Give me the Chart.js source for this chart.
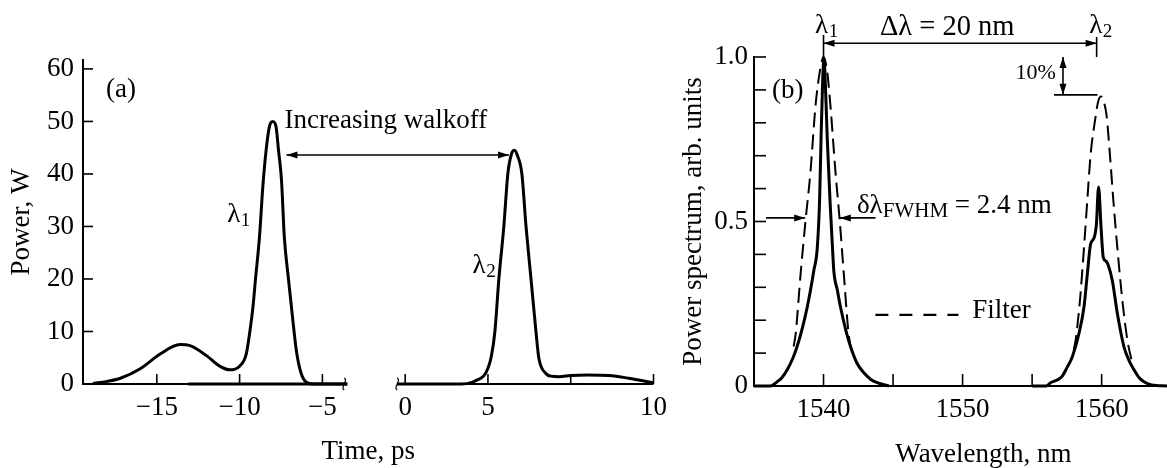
<!DOCTYPE html>
<html><head><meta charset="utf-8">
<script src="https://cdn.jsdelivr.net/npm/chart.js@4.4.1/dist/chart.umd.min.js"></script>
<style>
html,body{margin:0;padding:0;background:#fff;}
#wrap{position:relative;width:1167px;height:468px;overflow:hidden;background:#fff;}
canvas{position:absolute;top:0;}
#ca{left:0;}
#cb{left:675px;}
</style></head><body>
<div id="wrap"><canvas id="ca" width="675" height="468"></canvas><canvas id="cb" width="492" height="468"></canvas></div>
<script>
// ---------- Panel (a): power vs time ----------
const timeTicksA = [-15, -10, -5, 0, 5, 10, 15];
const timeTickLabelsA = ['−15', '−10', '−5', '0', '5', '', '10'];
const powerTicksA = [0, 10, 20, 30, 40, 50, 60];
const powerTickLabelsA = ['0', '10', '20', '30', '40', '50', '60'];

const timeL1 = [-18.86,-18.0,-17.2,-16.0,-14.8,-13.6,-13.0,-12.0,-11.2,-10.6,-10.0,-9.6,-9.4,-9.2,-9.04,-8.8,-8.6,-8.4,-8.2,-8.0,-7.8,-7.65,-7.47,-7.3,-7.05,-6.8,-6.57,-6.27,-5.9,-5.5,-3.5];
const powerL1 = [0.1,0.5,1.1,2.9,5.7,7.5,7.3,5.4,3.4,2.7,3.4,5.7,9.6,14.5,20,28,37.5,44.5,49,50,49,44.5,38.8,28,20,12.6,6.3,1.9,0.2,0,0];

const timeL2 = [-13.1,-3.5,-2.0,-0.5,3.4,4.04,4.3,4.76,5.0,5.2,5.42,5.66,5.96,6.2,6.42,6.6,6.78,7.05,7.3,7.6,7.9,8.07,8.5,8.8,9.3,10.0,11.0,12.3,13.5,15.0];
const powerL2 = [0,0,null,0,0,0.3,0.7,1.6,3.0,5.2,10,20,30,40,43.8,44.5,43.5,40,30,20,10,5,2,1.5,1.4,1.6,1.7,1.6,1.1,0.25];

const axisSegmentsA = [[-19.46, -3.5], [-0.48, 15]];

// ---------- Panel (b): power spectrum vs wavelength ----------
const wlTicksB = [1540, 1545, 1550, 1555, 1560];
const wlTickLabelsB = ['1540', '', '1550', '', '1560'];
const specTicksB = [0, 0.1, 0.2, 0.3, 0.4, 0.5, 0.6, 0.7, 0.8, 0.9, 1.0];
const specTickLabelsB = ['0', '', '', '', '', '0.5', '', '', '', '', '1.0'];

const wlS1 = [1535,1536.2,1536.67,1537.0,1537.4,1537.8,1538.1,1538.5,1538.83,1539.1,1539.3,1539.55,1539.72,1539.82,1539.94,1540.03,1540.13,1540.27,1540.47,1540.62,1540.74,1541.0,1541.22,1541.6,1541.94,1542.4,1542.9,1543.4,1543.86,1544.7];
const specS1 = [0,0,0.013,0.025,0.05,0.085,0.12,0.18,0.24,0.30,0.35,0.42,0.57,0.75,0.93,0.995,0.92,0.75,0.56,0.44,0.35,0.29,0.24,0.17,0.12,0.07,0.04,0.02,0.01,0];

const wlS2 = [1555,1556.0,1556.33,1556.8,1557.17,1557.5,1557.9,1558.37,1558.73,1558.97,1559.2,1559.45,1559.62,1559.78,1559.96,1560.12,1560.3,1560.45,1560.77,1561.13,1561.6,1562.0,1562.32,1562.7,1563.04,1563.6,1564.7];
const specS2 = [0,0,0.01,0.018,0.03,0.055,0.09,0.16,0.24,0.34,0.43,0.45,0.49,0.605,0.48,0.39,0.38,0.37,0.32,0.22,0.12,0.075,0.05,0.025,0.013,0.003,0];

const wlF1 = [1537.85,1538.0,1538.35,1538.7,1539.06,1539.42,1539.75,1540.0,1540.25,1540.5,1540.86,1541.17,1541.46,1541.8,1542.1];
const filtF1 = [0.12,0.16,0.34,0.50,0.65,0.85,0.96,1.0,0.96,0.85,0.65,0.50,0.34,0.16,0.09];

const wlF2 = [1558.0,1558.13,1558.44,1558.73,1558.97,1559.2,1559.57,1559.75,1559.95,1560.15,1560.36,1560.6,1560.84,1561.13,1561.49,1561.85,1562.2];
const filtF2 = [0.11,0.14,0.26,0.42,0.565,0.70,0.82,0.865,0.88,0.865,0.82,0.70,0.565,0.42,0.26,0.14,0.07];

// ---------- helpers ----------
const SERIF = "'Liberation Serif', 'DejaVu Serif', serif";
const FS = 27;
const FONT = {family: SERIF, size: FS};
const pts = (xs, ys) => xs.map((x, i) => ({x, y: ys[i]}));
Chart.defaults.font.family = SERIF;
Chart.defaults.color = '#000';

function txt(ctx, s, x, y, size, align) {
  ctx.font = size + 'px ' + SERIF;
  ctx.textAlign = align || 'left';
  ctx.textBaseline = 'alphabetic';
  ctx.fillStyle = '#000';
  ctx.fillText(s, x, y);
  return ctx.measureText(s).width;
}
function lam(ctx, sub, x, y, size, subSize) {
  const w = txt(ctx, 'λ', x, y, size);
  txt(ctx, sub, x + w + 0.5, y + 4, subSize);
}
function seg(ctx, x1, y1, x2, y2, lw) {
  ctx.lineWidth = lw; ctx.strokeStyle = '#000';
  ctx.beginPath(); ctx.moveTo(x1, y1); ctx.lineTo(x2, y2); ctx.stroke();
}
function head(ctx, x1, y1, x2, y2, len, hw) {
  const a = Math.atan2(y2 - y1, x2 - x1), c = Math.cos(a), s = Math.sin(a);
  ctx.fillStyle = '#000';
  ctx.beginPath();
  ctx.moveTo(x2, y2);
  ctx.lineTo(x2 - len * c + hw * s, y2 - len * s - hw * c);
  ctx.lineTo(x2 - len * c - hw * s, y2 - len * s + hw * c);
  ctx.closePath(); ctx.fill();
}
function arrow(ctx, x1, y1, x2, y2, both) {
  seg(ctx, x1, y1, x2, y2, 1.6);
  head(ctx, x1, y1, x2, y2, 11, 3.5);
  if (both) head(ctx, x2, y2, x1, y1, 11, 3.5);
}
function squiggle(ctx, x, y) {
  ctx.lineWidth = 1.2; ctx.strokeStyle = '#000';
  ctx.beginPath();
  ctx.moveTo(x, y - 6);
  ctx.bezierCurveTo(x + 5, y - 3, x - 5, y + 3, x, y + 6);
  ctx.stroke();
}

// ---------- panel (a) decorations ----------
const decorA = {
  id: 'decorA',
  beforeDatasetsDraw(chart) {
    const {ctx, scales: {x, y}} = chart;
    ctx.save();
    const y0 = y.getPixelForValue(0);
    axisSegmentsA.forEach(([a, b]) => seg(ctx, x.getPixelForValue(a), y0, x.getPixelForValue(b), y0, 2));
    timeTicksA.forEach(v => { const px = x.getPixelForValue(v); seg(ctx, px, y0, px, y0 - 10, 1.6); });
    powerTicksA.forEach(v => { const py = y.getPixelForValue(v); seg(ctx, x.left, py, x.left + 10, py, 1.6); });
    squiggle(ctx, x.getPixelForValue(axisSegmentsA[0][1]) - 3, y0);
    squiggle(ctx, x.getPixelForValue(axisSegmentsA[1][0]), y0);
    ctx.restore();
  },
  afterDraw(chart) {
    const {ctx, scales: {x, y}} = chart;
    const X = v => x.getPixelForValue(v), Y = v => y.getPixelForValue(v);
    ctx.save();
    txt(ctx, '(a)', X(-18.07), Y(54.56), FS);
    txt(ctx, 'Increasing walkoff', X(-7.29), Y(48.75), FS);
    arrow(ctx, X(-7.17), Y(43.6), X(6.27), Y(43.6), true);
    lam(ctx, '1', X(-10.75), Y(30.85), FS, 19);
    lam(ctx, '2', X(4.07), Y(21.14), FS, 19);
    ctx.restore();
  }
};

// ---------- panel (b) decorations ----------
const decorB = {
  id: 'decorB',
  beforeDatasetsDraw(chart) {
    const {ctx, scales: {x, y}} = chart;
    ctx.save();
    const y0 = y.getPixelForValue(0);
    wlTicksB.forEach(v => { const px = x.getPixelForValue(v); seg(ctx, px, y0, px, y0 - 12, 1.6); });
    specTicksB.forEach(v => { const py = y.getPixelForValue(v); seg(ctx, x.left, py, x.left + 12, py, 1.6); });
    ctx.restore();
  },
  afterDraw(chart) {
    const {ctx, scales: {x, y}} = chart;
    const X = v => x.getPixelForValue(v), Y = v => y.getPixelForValue(v);
    ctx.save();
    // lambda markers and separation arrow
    lam(ctx, '1', X(1539.39), Y(1.073), FS, 19);
    lam(ctx, '2', X(1559.1), Y(1.073), FS, 19);
    seg(ctx, X(1540), Y(1.067), X(1540), Y(0.99), 1.6);
    seg(ctx, X(1559.64), Y(1.061), X(1559.64), Y(1.0), 1.6);
    arrow(ctx, X(1540), Y(1.0416), X(1559.64), Y(1.0416), true);
    txt(ctx, 'Δλ = 20 nm', X(1544.06), Y(1.067), 28.5);
    // 10% marker
    txt(ctx, '10%', X(1553.8), Y(0.934), 22);
    arrow(ctx, X(1557.22), Y(1.0), X(1557.22), Y(0.885), true);
    seg(ctx, X(1556.57), Y(0.885), X(1559.7), Y(0.885), 1.6);
    // (b)
    txt(ctx, '(b)', X(1536.3), Y(0.875), FS);
    // FWHM
    arrow(ctx, X(1535.87), Y(0.511), X(1538.68), Y(0.511), false);
    arrow(ctx, X(1543.74), Y(0.511), X(1541.17), Y(0.511), false);
    let px = X(1542.4);
    const by = Y(0.526);
    px += txt(ctx, 'δλ', px, by, FS);
    px += txt(ctx, 'FWHM', px, by + 4, 21);
    txt(ctx, ' = 2.4 nm', px, by, FS);
    // filter legend
    ctx.setLineDash([13, 11]);
    seg(ctx, X(1543.73), Y(0.216), X(1549.7), Y(0.216), 2.2);
    ctx.setLineDash([]);
    txt(ctx, 'Filter', X(1550.7), Y(0.207), FS);
    // x axis title
    txt(ctx, 'Wavelength, nm', X(1551.5), 462, FS, 'center');
    ctx.restore();
  }
};

const lineDs = (data, w, dash) => ({
  data, borderColor: '#000', borderWidth: w, borderDash: dash || [], pointRadius: 0,
  fill: false, cubicInterpolationMode: 'monotone', spanGaps: false, clip: false
});

new Chart(document.getElementById('ca'), {
  type: 'line',
  data: { datasets: [ lineDs(pts(timeL1, powerL1), 3), lineDs(pts(timeL2, powerL2), 3) ] },
  options: {
    responsive: false, animation: false, devicePixelRatio: 1,
    layout: { padding: { top: 60, left: 0, right: 20, bottom: 0 } },
    plugins: { legend: { display: false }, tooltip: { enabled: false } },
    scales: {
      x: {
        type: 'linear', min: -19.46, max: 15,
        grid: { display: false, drawTicks: false }, border: { display: false },
        afterBuildTicks: s => { s.ticks = timeTicksA.map(v => ({value: v})); },
        afterFit: s => { s.height = 84; },
        ticks: { font: FONT, color: '#000', padding: 8, autoSkip: false, maxRotation: 0,
                 callback: (v, i) => timeTickLabelsA[i] },
        title: { display: true, text: 'Time, ps', font: FONT, color: '#000', padding: { top: 1, bottom: 0 } }
      },
      y: {
        type: 'linear', min: 0, max: 61.7,
        grid: { display: false, drawTicks: false }, border: { display: true, color: '#000', width: 2 },
        afterBuildTicks: s => { s.ticks = powerTicksA.map(v => ({value: v})); },
        afterFit: s => { s.width = 83; },
        ticks: { font: FONT, color: '#000', padding: 9, callback: (v, i) => powerTickLabelsA[i] },
        title: { display: true, text: 'Power, W', font: FONT, color: '#000', padding: { top: 6, bottom: 0 } }
      }
    }
  },
  plugins: [decorA]
});

new Chart(document.getElementById('cb'), {
  type: 'line',
  data: { datasets: [
    lineDs(pts(wlS1, specS1), 3), lineDs(pts(wlS2, specS2), 3),
    lineDs(pts(wlF1, filtF1), 2, [15, 7]), lineDs(pts(wlF2, filtF2), 2, [15, 7])
  ] },
  options: {
    responsive: false, animation: false, devicePixelRatio: 1,
    layout: { padding: { top: 57, left: 0, right: 0, bottom: 0 } },
    plugins: { legend: { display: false }, tooltip: { enabled: false } },
    scales: {
      x: {
        type: 'linear', min: 1535, max: 1564.7,
        grid: { display: false, drawTicks: false }, border: { display: true, color: '#000', width: 2 },
        afterBuildTicks: s => { s.ticks = wlTicksB.map(v => ({value: v})); },
        afterFit: s => { s.height = 82; },
        ticks: { font: FONT, color: '#000', padding: 8, autoSkip: false, maxRotation: 0,
                 callback: (v, i) => wlTickLabelsB[i] }
      },
      y: {
        type: 'linear', min: 0, max: 1.0,
        grid: { display: false, drawTicks: false }, border: { display: true, color: '#000', width: 2 },
        afterBuildTicks: s => { s.ticks = specTicksB.map(v => ({value: v})); },
        afterFit: s => { s.width = 79; },
        ticks: { font: FONT, color: '#000', padding: 6, autoSkip: false, callback: (v, i) => specTickLabelsB[i] },
        title: { display: true, text: 'Power spectrum, arb. units', font: FONT, color: '#000', padding: { top: 3, bottom: 0 } }
      }
    }
  },
  plugins: [decorB]
});
</script>
</body></html>
